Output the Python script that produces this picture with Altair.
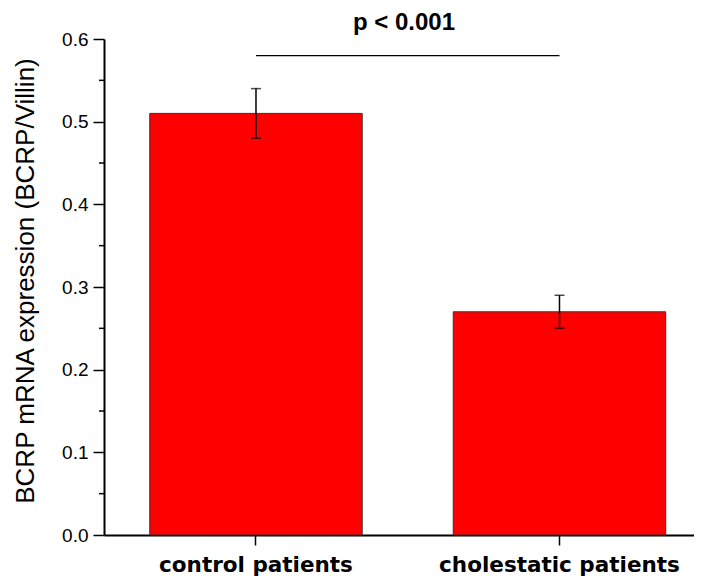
import altair as alt
import pandas as pd

categories = ["control patients", "cholestatic patients"]
means = [0.51, 0.27]
err_low = [0.48, 0.25]
err_high = [0.54, 0.29]
minor_ticks = [0.05, 0.15, 0.25, 0.35, 0.45, 0.55]
sig_level = 0.58
sig_label = "p < 0.001"

df = pd.DataFrame({"group": categories, "mean": means, "lo": err_low, "hi": err_high})
sig_df = pd.DataFrame({"a": [categories[0]], "b": [categories[1]], "y": [sig_level]})
minor_df = pd.DataFrame({"v": minor_ticks})

xscale = alt.Scale(domain=categories, paddingInner=0.3, paddingOuter=0.122, align=0.618)
yscale = alt.Scale(domain=[0, 0.6], nice=False)

x_enc = alt.X("group:N", scale=xscale, sort=categories, title=None,
              axis=alt.Axis(labelAngle=0, labelFont="DejaVu Sans", labelFontSize=21.5,
                            labelFontWeight="bold", labelColor="black", tickSize=10,
                            tickWidth=1.5, tickColor="black", domainColor="black",
                            domainWidth=2, labelPadding=9, labelBaseline="top",
                            labelLimit=0))
y_enc = alt.Y("mean:Q", scale=yscale, title="BCRP mRNA expression (BCRP/Villin)",
              axis=alt.Axis(values=[0, 0.1, 0.2, 0.3, 0.4, 0.5, 0.6], format=".1f",
                            labelFont="Liberation Sans", labelFontSize=19, labelColor="black",
                            tickSize=11, tickWidth=1.5, tickColor="black",
                            domainColor="black", domainWidth=2, labelPadding=5,
                            grid=False, titleFont="Liberation Sans", titleFontSize=26,
                            titleFontWeight="normal", titleColor="black",
                            titleX=-66, titleY=241.5))

base = alt.Chart(df)
bars = base.mark_bar(color="#FF0000", stroke="#333333", strokeWidth=1).encode(x=x_enc, y=y_enc)
err = base.mark_rule(color="black", strokeWidth=1.5).encode(
    x=alt.X("group:N", scale=xscale, sort=categories), y=alt.Y("lo:Q", scale=yscale), y2="hi:Q")
cap_lo = base.mark_tick(color="black", size=10, thickness=1.5, orient="horizontal").encode(
    x=alt.X("group:N", scale=xscale, sort=categories), y=alt.Y("lo:Q", scale=yscale))
cap_hi = base.mark_tick(color="black", size=10, thickness=1.5, orient="horizontal").encode(
    x=alt.X("group:N", scale=xscale, sort=categories), y=alt.Y("hi:Q", scale=yscale))

sig_line = alt.Chart(sig_df).mark_rule(color="black", strokeWidth=1.2).encode(
    x=alt.X("a:N", scale=xscale, bandPosition=0.5),
    x2="b:N",
    y=alt.Y("y:Q", scale=yscale))
sig_text = alt.Chart(sig_df).mark_text(font="Liberation Sans", fontSize=24, fontWeight="bold",
                                       color="black", baseline="alphabetic", align="center").encode(
    x=alt.value(300), y=alt.value(-9), text=alt.value(sig_label))

minor = alt.Chart(minor_df).mark_rule(color="black", strokeWidth=1.5).encode(
    y=alt.Y("v:Q", scale=yscale), x=alt.value(-5), x2=alt.value(0))

chart = alt.layer(bars, err, cap_lo, cap_hi, sig_line, sig_text, minor).properties(
    width=590, height=496,
    padding={"left": 96, "top": 31, "right": 0, "bottom": 45},
    autosize=alt.AutoSizeParams(type="none"),
).configure_view(stroke=None)

chart.save("out.html", embed_options={"renderer": "svg", "actions": False})
